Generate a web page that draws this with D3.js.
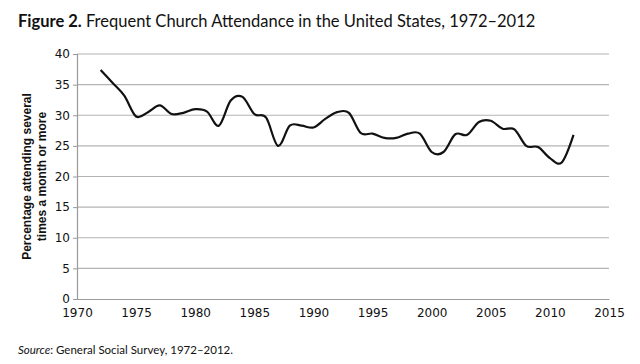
<!DOCTYPE html>
<html>
<head>
<meta charset="utf-8">
<script src="https://cdn.jsdelivr.net/npm/d3@7"></script>
<style>
  body { margin: 0; background: #fff; }
  svg { display: block; }
</style>
</head>
<body>
<div id="chart"></div>
<script>
// values (GSS, % attending several times a month or more)
const years = [1972, 1973, 1974, 1975, 1976, 1977, 1978, 1979, 1980, 1981,
    1982, 1983, 1984, 1985, 1986, 1987, 1988, 1989, 1990, 1991,
    1992, 1993, 1994, 1995, 1996, 1997, 1998, 1999, 2000, 2001,
    2002, 2003, 2004, 2005, 2006, 2007, 2008, 2009, 2010, 2011, 2012];
const attendance = [37.4, 35.3, 33.2, 29.8, 30.5, 31.6, 30.2, 30.4, 31.0, 30.6,
    28.3, 32.4, 33.0, 30.2, 29.6, 25.0, 28.3, 28.3, 28.0, 29.4,
    30.5, 30.4, 27.1, 27.0, 26.3, 26.3, 27.0, 27.0, 24.0, 24.0,
    26.9, 26.8, 28.9, 29.1, 27.8, 27.7, 25.0, 24.8, 23.0, 22.3, 26.8];
const xTicks = [1970, 1975, 1980, 1985, 1990, 1995, 2000, 2005, 2010, 2015];
const yTicks = [0, 5, 10, 15, 20, 25, 30, 35, 40];

const width = 640, height = 364;
const margin = { top: 54, left: 77, right: 31, bottom: 65 };
const w = width - margin.left - margin.right,
    h = height - margin.top - margin.bottom;

const svg = d3.select("#chart")
    .append("svg")
    .attr("width", width)
    .attr("height", height);

svg.append("text")
    .attr("x", 18)
    .attr("y", 27)
    .attr("font-family", "Lato, 'Open Sans', sans-serif")
    .attr("font-size", 16.5)
    .attr("fill", "#111")
    .call((t) => {
        t.append("tspan").attr("font-weight", "bold").text("Figure 2.");
        t.append("tspan").text(" Frequent Church Attendance in the United States, 1972\u20132012");
    });

const g = svg.append("g")
    .attr("transform", "translate(" + margin.left + ", " + margin.top + ")");

const xScale = d3.scaleLinear()
    .domain([1970, 2015])
    .range([0, w]);
const yScale = d3.scaleLinear()
    .domain([0, 40])
    .range([h, 0]);

// gridlines
g.append("g")
    .attr("class", "grid")
    .selectAll("line")
    .data(yTicks.filter((d) => d > 0))
    .enter()
    .append("line")
    .attr("x1", 0)
    .attr("x2", w)
    .attr("y1", (d) => yScale(d))
    .attr("y2", (d) => yScale(d))
    .attr("stroke", "#b4b4b4")
    .attr("stroke-width", 1.2);

const yAxisCall = d3.axisLeft(yScale)
    .tickValues(yTicks)
    .tickSize(4)
    .tickPadding(3);
const yAxis = g.append("g")
    .attr("class", "y axis")
    .call(yAxisCall);
yAxis.select(".domain").attr("stroke", "#9a9a9a").attr("stroke-width", 1.2);
yAxis.selectAll(".tick line").attr("stroke", "#9a9a9a");
yAxis.selectAll("text")
    .attr("font-family", "'DejaVu Sans', Verdana, sans-serif")
    .attr("font-size", 12)
    .attr("fill", "#111");

const xAxisCall = d3.axisBottom(xScale)
    .tickValues(xTicks)
    .tickFormat((d) => d)
    .tickSize(0)
    .tickPadding(9);
const xAxis = g.append("g")
    .attr("class", "x axis")
    .attr("transform", "translate(0," + h + ")")
    .call(xAxisCall);
xAxis.select(".domain").attr("stroke", "#9a9a9a").attr("stroke-width", 1.2);
xAxis.selectAll("text")
    .attr("font-family", "'DejaVu Sans', Verdana, sans-serif")
    .attr("font-size", 12)
    .attr("fill", "#111");

// y axis title, two lines
const yTitle = svg.append("text")
    .attr("transform", "translate(0," + (margin.top + h / 2) + ") rotate(-90)")
    .attr("text-anchor", "middle")
    .attr("font-family", "'Liberation Sans', Arial, sans-serif")
    .attr("font-weight", "bold")
    .attr("font-size", 12)
    .attr("fill", "#111");
yTitle.append("tspan").attr("x", 0).attr("y", 31).text("Percentage attending several");
yTitle.append("tspan").attr("x", 0).attr("y", 46).text("times a month or more");

const series = years.map((yr, i) => ({ x: yr, y: attendance[i] }));
const path = d3.line()
    .curve(d3.curveCatmullRom.alpha(0))
    .x((d) => xScale(d.x))
    .y((d) => yScale(d.y));
g.append("path")
    .attr("class", "attendance-line")
    .attr("fill", "none")
    .attr("stroke", "#111")
    .attr("stroke-width", 2.2)
    .attr("stroke-linejoin", "round")
    .attr("d", path(series));

svg.append("text")
    .attr("x", 18)
    .attr("y", 354)
    .attr("font-family", "Lato, 'Open Sans', sans-serif")
    .attr("font-size", 11.5)
    .attr("fill", "#111")
    .call((t) => {
        t.append("tspan").attr("font-style", "italic").text("Source");
        t.append("tspan").text(": General Social Survey, 1972\u20132012.");
    });
</script>
</body>
</html>
